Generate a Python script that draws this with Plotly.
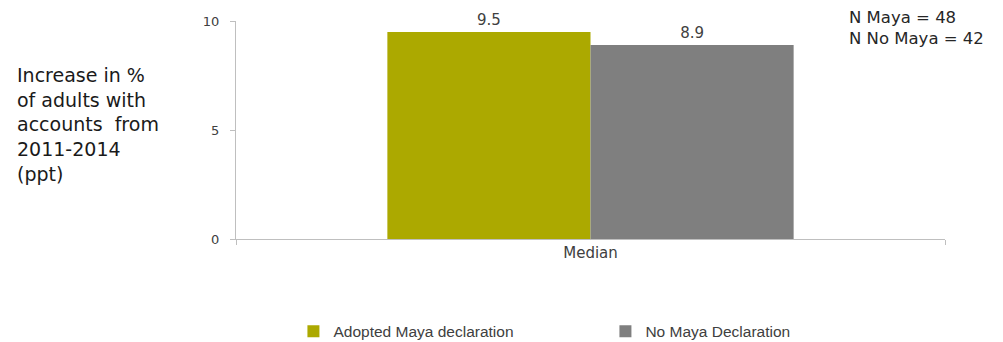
import plotly.graph_objects as go

# Median change in account ownership, 2011-2014 (percentage points)
categories = ["Median"]
maya_values = [9.5]
no_maya_values = [8.9]
series_names = ["Adopted Maya declaration", "No Maya Declaration"]
y_ticks = [0, 5, 10]
sample_notes = ["N Maya = 48", "N No Maya = 42"]

OLIVE = "#ACA900"
GREY = "#7F7F7F"
AXIS = "#BFBFBF"
TEXT = "#404040"

fig = go.Figure()
for name, vals, color in [
    (series_names[0], maya_values, OLIVE),
    (series_names[1], no_maya_values, GREY),
]:
    fig.add_trace(go.Bar(
        x=categories,
        y=vals,
        name=name,
        marker=dict(color=color, line=dict(width=0)),
        text=[f"{v:.1f}" for v in vals],
        textposition="outside",
        textfont=dict(family="DejaVu Sans", size=15, color=TEXT),
        cliponaxis=False,
    ))

fig.update_layout(
    width=1003,
    height=342,
    margin=dict(l=236, r=58, t=21, b=103, autoexpand=False),
    paper_bgcolor="white",
    plot_bgcolor="white",
    barmode="group",
    bargap=0.427,
    bargroupgap=0,
    showlegend=True,
    legend=dict(
        orientation="h",
        x=0.081,
        xanchor="left",
        yref="container",
        y=0.03,
        yanchor="middle",
        entrywidth=267,
        entrywidthmode="pixels",
        font=dict(family="Liberation Sans", size=15.5, color=TEXT),
        bgcolor="rgba(0,0,0,0)",
    ),
    xaxis=dict(
        showline=True,
        linecolor=AXIS,
        linewidth=1,
        ticks="outside",
        tickson="boundaries",
        ticklen=5,
        tickcolor=AXIS,
        showgrid=False,
        tickfont=dict(family="DejaVu Sans", size=15, color=TEXT),
    ),
    yaxis=dict(
        range=[0, 10],
        tickvals=y_ticks,
        showline=True,
        linecolor=AXIS,
        linewidth=1,
        ticks="outside",
        ticklen=5,
        tickcolor=AXIS,
        showgrid=False,
        zeroline=False,
        ticklabelstandoff=8,
        tickfont=dict(family="DejaVu Sans", size=13, color=TEXT),
    ),
)

# Axis description on the left
fig.add_annotation(
    xref="paper", yref="paper",
    x=-0.3117, y=0.5275,
    xanchor="left", yanchor="middle", align="left",
    text="Increase in %<br>of adults with<br>accounts  from<br>2011-2014<br>(ppt)",
    showarrow=False,
    font=dict(family="DejaVu Sans", size=19, color="#1A1A1A"),
)

# Sample sizes in the upper right
fig.add_annotation(
    xref="paper", yref="paper",
    x=0.8618, y=0.9656,
    xanchor="left", yanchor="middle", align="left",
    text="<br>".join(sample_notes),
    showarrow=False,
    font=dict(family="DejaVu Sans", size=16.5, color="#262626"),
)

fig.write_html("out.html")
